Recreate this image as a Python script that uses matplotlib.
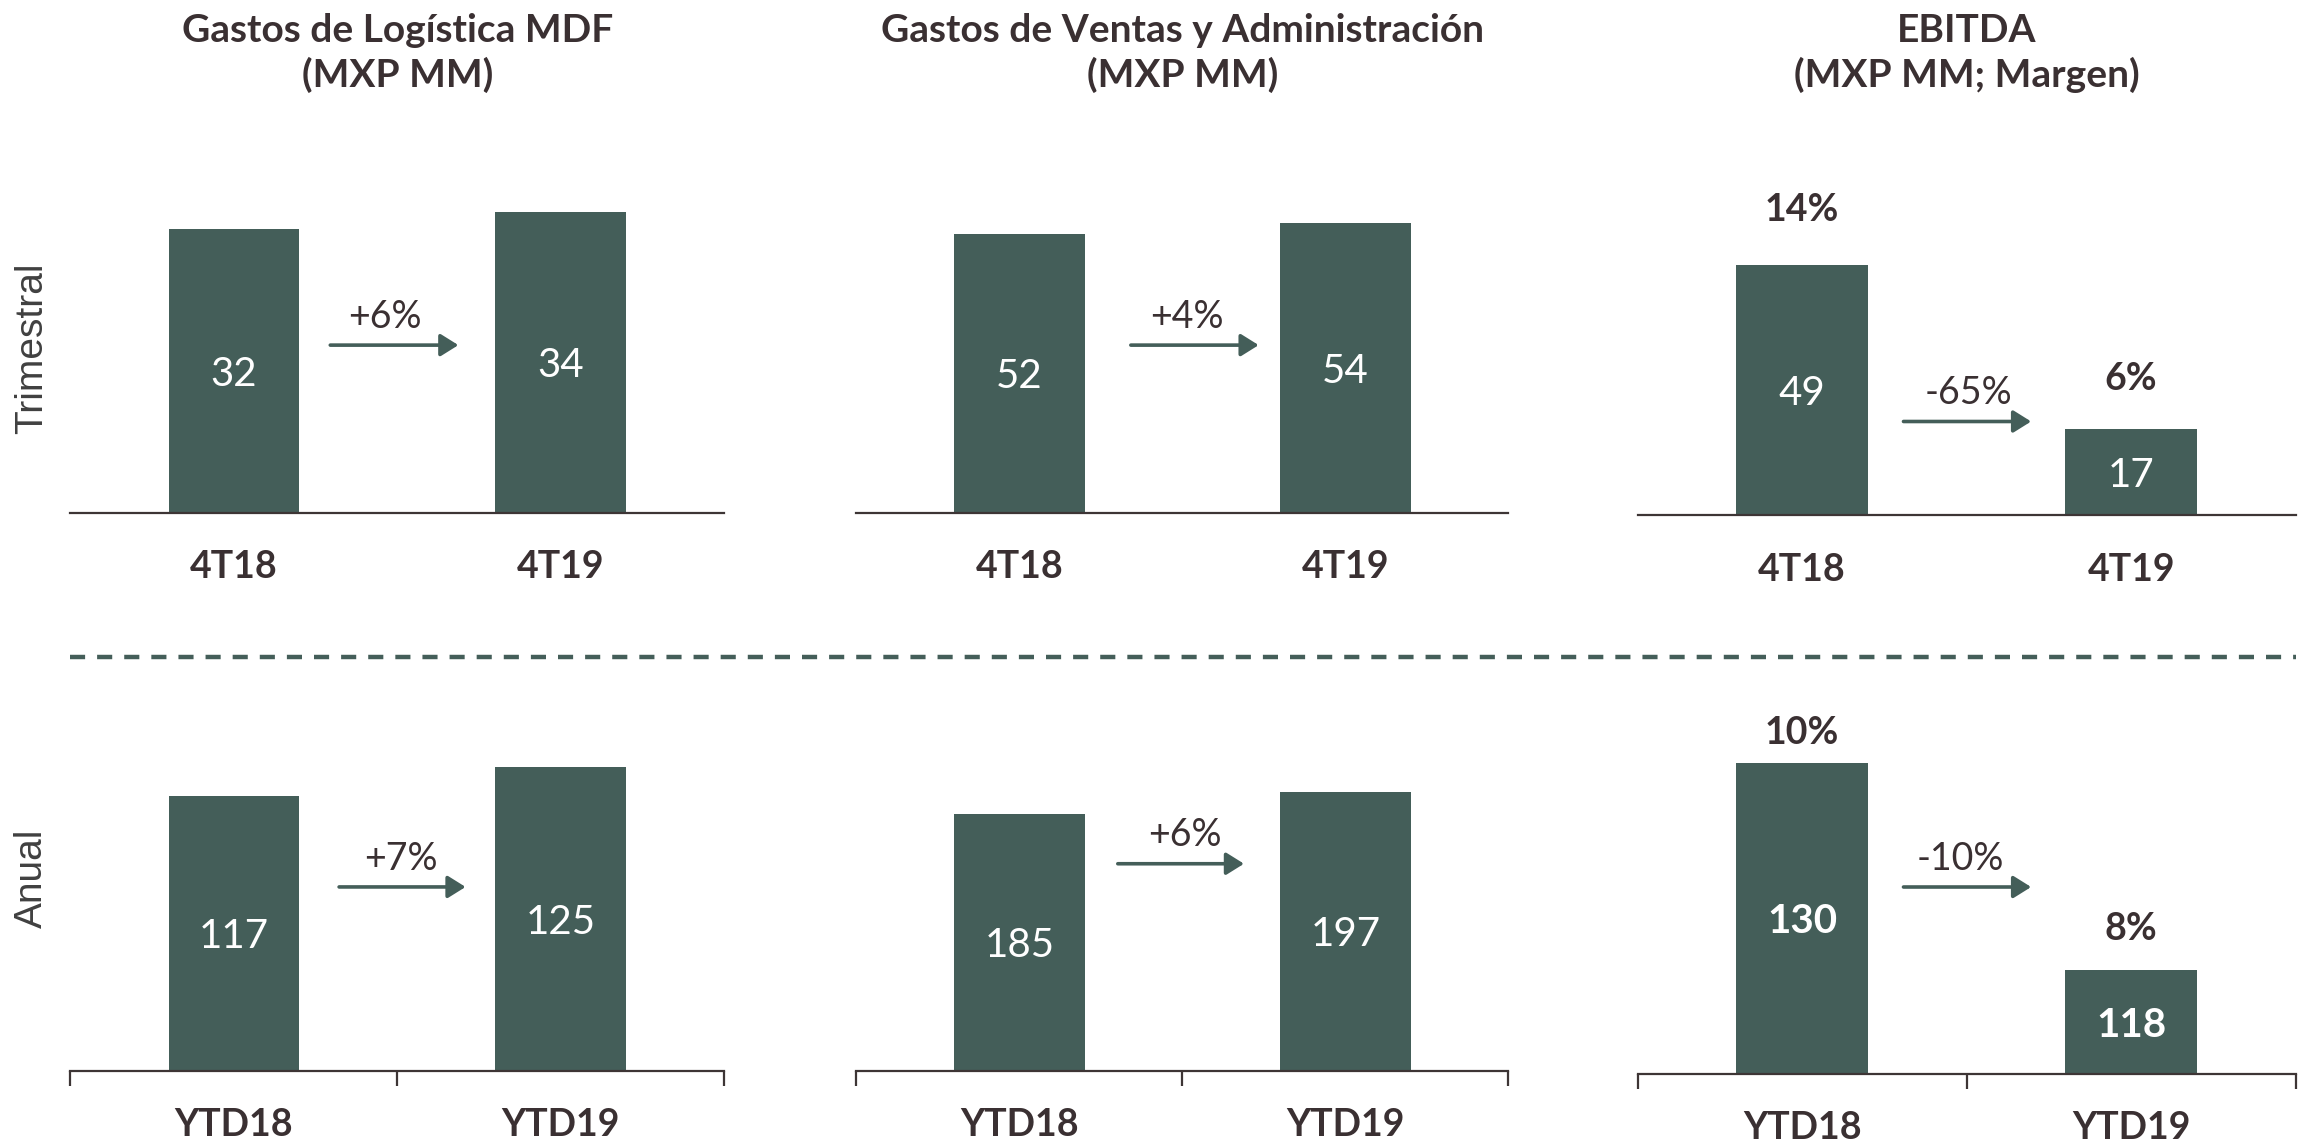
import matplotlib
matplotlib.use("Agg")
import matplotlib.pyplot as plt
from matplotlib.lines import Line2D
import matplotlib.transforms as mtransforms

# ---------------- data ----------------
categories_q = ["4T18", "4T19"]
categories_y = ["YTD18", "YTD19"]
titles = ["Gastos de Logística MDF\n(MXP MM)",
          "Gastos de Ventas y Administración\n(MXP MM)",
          "EBITDA\n(MXP MM; Margen)"]
row_labels = ["Trimestral", "Anual"]

logistica_q = [32, 34]
ventas_q = [52, 54]
ebitda_q = [49, 17]
logistica_y = [117, 125]
ventas_y = [185, 197]
ebitda_y = [130, 118]

ebitda_margin_q = ["14%", "6%"]
ebitda_margin_y = ["10%", "8%"]

growth_q = ["+6%", "+4%", "-65%"]
growth_y = ["+7%", "+6%", "-10%"]

# ---------------- style / layout ----------------
BAR = "#445e59"
TXT = "#3a3032"
AXC = "#3d3535"
FONT = "Lato"

W, H = 2303, 1144
fig = plt.figure(figsize=(W / 100, H / 100), dpi=100)

top_rects = [(0.0306, 0.5519, 0.2838, 0.3197),
             (0.3718, 0.5519, 0.2832, 0.3197),
             (0.7111, 0.5494, 0.2857, 0.3222)]
bot_rects = [(0.0306, 0.0641, 0.2838, 0.3325),
             (0.3718, 0.0641, 0.2832, 0.3325),
             (0.7111, 0.0615, 0.2857, 0.3350)]
top_ylims = [(0, 41.3), (0, 68.2), (0, 72.1)]
bot_ylims = [(42.2, 145.8), (45, 252.2), (112, 134.2)]

# arrow geometry: (x0, x1, y_axes_frac, label_x)
top_arrows = [(0.295, 0.687, 0.458, 0.462),
              (0.342, 0.734, 0.458, 0.513),
              (0.308, 0.696, 0.255, 0.504)]
bot_arrows = [(0.322, 0.709, 0.483, 0.511),
              (0.302, 0.689, 0.544, 0.509),
              (0.308, 0.696, 0.487, 0.482)]
margin_offsets_q = [42, 38]
margin_offsets_y = [24, 32]


def panel(rect, cats, vals, ylim, arrow, growth, bottom_ticks,
          bold_inner=False, margins=None, margin_offsets=None):
    ax = fig.add_axes(rect)
    x = list(range(len(cats)))
    ax.bar(x, vals, width=0.4, color=BAR, zorder=2)
    ax.set_xlim(-0.5, 1.5)
    ax.set_ylim(*ylim)
    for s in ["top", "left", "right"]:
        ax.spines[s].set_visible(False)
    ax.spines["bottom"].set_color(AXC)
    ax.spines["bottom"].set_linewidth(1.6)
    ax.set_yticks([])
    ax.set_xticks(x)
    ax.set_xticklabels(cats, fontsize=27, fontweight="bold", family=FONT, color=TXT)
    ax.tick_params(axis="x", which="major", length=0, pad=27)
    if bottom_ticks:
        ax.set_xticks([-0.5, 0.5, 1.5], minor=True)
        ax.tick_params(axis="x", which="minor", length=11, width=1.6,
                       color=AXC, direction="out")
    lo = max(ylim[0], 0)
    for xi, v in zip(x, vals):
        ax.text(xi, (lo + v) / 2, str(v), ha="center", va="center_baseline",
                fontsize=29, color="white", family=FONT,
                fontweight="bold" if bold_inner else "normal", zorder=3)
    if margins is not None:
        for xi, v, m, off in zip(x, vals, margins, margin_offsets):
            ax.annotate(m, xy=(xi, v), xytext=(0, off), textcoords="offset points",
                        ha="center", va="center_baseline", fontsize=27,
                        fontweight="bold", family=FONT, color=TXT,
                        annotation_clip=False)
    trans = mtransforms.blended_transform_factory(ax.transData, ax.transAxes)
    x0, x1, ya, lx = arrow
    ax.annotate("", xy=(x1, ya), xytext=(x0, ya), xycoords=trans, textcoords=trans,
                arrowprops=dict(arrowstyle="-|>,head_length=0.4,head_width=0.25",
                                color=BAR, lw=2.6, mutation_scale=27,
                                shrinkA=0, shrinkB=0))
    ax.annotate(growth, xy=(lx, ya), xycoords=trans, xytext=(0, 23),
                textcoords="offset points", ha="center", va="center_baseline",
                fontsize=27, family=FONT, color=TXT)
    return ax


top_data = [logistica_q, ventas_q, ebitda_q]
bot_data = [logistica_y, ventas_y, ebitda_y]

for i in range(3):
    axt = panel(top_rects[i], categories_q, top_data[i], top_ylims[i], top_arrows[i],
                growth_q[i], False,
                margins=ebitda_margin_q if i == 2 else None,
                margin_offsets=margin_offsets_q if i == 2 else None)
    axb = panel(bot_rects[i], categories_y, bot_data[i], bot_ylims[i], bot_arrows[i],
                growth_y[i], True, bold_inner=(i == 2),
                margins=ebitda_margin_y if i == 2 else None,
                margin_offsets=margin_offsets_y if i == 2 else None)
    r = top_rects[i]
    fig.text(r[0] + r[2] / 2, 0.954, titles[i], ha="center", va="center",
             fontsize=28, fontweight="bold", family=FONT, color=TXT,
             linespacing=1.3)

# row labels
fig.text(0.014, 0.696, row_labels[0], rotation=90, ha="center", va="center",
         fontsize=28, family="Liberation Sans", color="#404040")
fig.text(0.014, 0.232, row_labels[1], rotation=90, ha="center", va="center",
         fontsize=28, family="Liberation Sans", color="#404040")

# dashed separator
fig.add_artist(Line2D([0.0306, 0.9968], [0.4260, 0.4260], transform=fig.transFigure,
                      color=BAR, lw=3.2, linestyle=(0, (3.4, 2.7))))

fig.savefig("out.png", dpi=100, facecolor="white")
